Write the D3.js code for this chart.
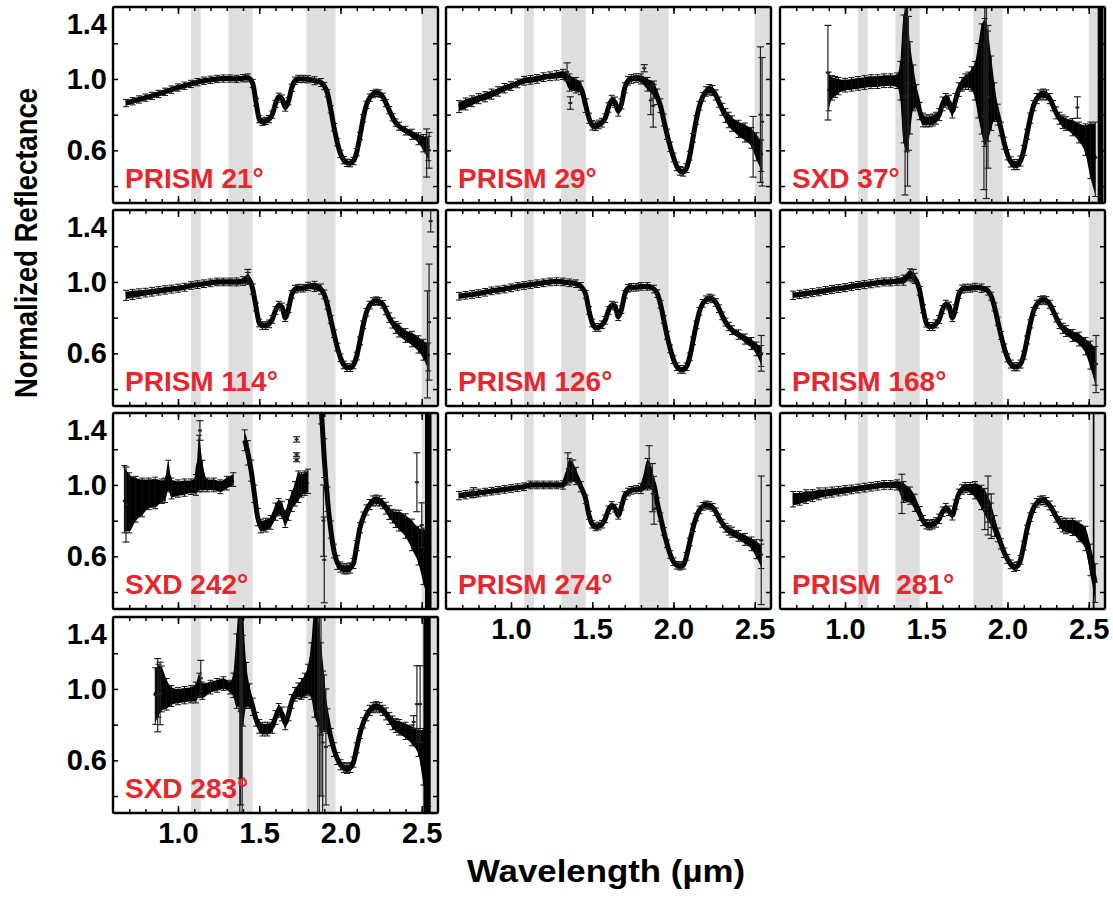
<!DOCTYPE html>
<html><head><meta charset="utf-8">
<script src="https://cdn.jsdelivr.net/npm/d3@7"></script>
<style>
html,body{margin:0;padding:0;background:#fff;}
svg{display:block;font-family:"Liberation Sans",Arial,sans-serif;}
</style></head>
<body><svg id="c" width="1113" height="903"></svg>
<script>
// ---------------- DATA ----------------
const xTickLabels = [1.0, 1.5, 2.0, 2.5];
const yTickLabels = [0.6, 1.0, 1.4];
const telluricBands = [[1.08, 1.14], [1.31, 1.46], [1.79, 1.97], [2.50, 2.60]];

const wlPrism = [0.68,0.72,0.76,0.80,0.84,0.88,0.92,0.96,1.00,1.04,1.08,1.12,1.16,1.20,1.24,1.28,1.32,1.36,1.40,
  1.43,1.46,1.48,1.50,1.52,1.54,1.56,1.58,1.60,1.62,1.64,1.66,1.68,1.70,1.72,1.74,
  1.77,1.80,1.84,1.88,1.90,1.92,1.94,1.96,1.98,
  2.00,2.02,2.04,2.06,2.08,2.10,2.12,2.14,2.16,2.18,2.20,2.22,2.24,2.26,2.28,2.30,2.32,2.34,2.36,
  2.40,2.44,2.48,2.51,2.54];

// PRISM 21°
const rf21 = [.865,.875,.885,.895,.905,.916,.928,.94,.952,.962,.972,.982,.99,.995,1.0,1.002,1.002,1.0,1.004,
  1.006,.975,.87,.775,.76,.765,.775,.80,.86,.90,.89,.84,.875,.95,.99,1.0,
  1.0,.998,.99,.98,.96,.92,.83,.73,.645,
  .58,.545,.53,.528,.54,.59,.68,.78,.855,.895,.915,.922,.918,.90,.865,.825,.785,.755,.735,
  .71,.69,.665,.64,.61];
const er21 = [.012,.012,.012,.012,.012,.012,.012,.012,.012,.012,.012,.012,.012,.012,.012,.012,.012,.012,.012,
  .014,.014,.012,.012,.012,.012,.012,.012,.012,.012,.012,.012,.012,.012,.012,.012,
  .012,.012,.014,.014,.012,.012,.012,.012,.012,
  .012,.012,.012,.012,.012,.012,.012,.012,.012,.012,.012,.012,.012,.012,.012,.012,.012,.012,.014,
  .016,.02,.025,.04,.06];
const bars21 = [[2.53,0.45,0.72],[2.545,0.50,0.70]];

// PRISM 29°
const rf29 = [.845,.86,.875,.89,.90,.915,.93,.948,.96,.975,.99,.995,1.0,1.01,1.015,1.02,1.025,.98,.965,
  .95,.85,.78,.74,.735,.745,.755,.78,.84,.88,.87,.82,.86,.95,.99,1.0,
  1.005,1.0,.97,.94,.90,.85,.77,.69,.62,
  .56,.51,.485,.48,.50,.57,.67,.77,.85,.90,.93,.94,.935,.91,.87,.83,.795,.77,.75,
  .72,.70,.67,.62,.57];
const er29 = [.025,.025,.022,.02,.02,.02,.018,.018,.016,.016,.016,.016,.016,.016,.016,.018,.02,.04,.035,
  .03,.03,.02,.018,.016,.016,.016,.016,.018,.02,.02,.02,.02,.02,.016,.016,
  .016,.02,.03,.04,.035,.03,.025,.02,.018,
  .016,.016,.016,.016,.016,.016,.016,.016,.016,.016,.018,.02,.02,.02,.02,.025,.03,.035,.035,
  .04,.045,.05,.07,.08];
const bars29 = [[1.345,0.99,1.09],[1.365,0.83,0.90],[1.82,1.04,1.08],[1.86,0.80,0.96],[1.875,0.73,0.97],
  [2.49,0.45,0.79],[2.535,0.42,1.18],[2.545,0.40,1.12]];

// SXD 37°
const wl37 = [0.90,0.92,0.94,0.96,1.00,1.04,1.08,1.12,1.16,1.20,1.24,1.28,1.32,1.34,1.36,1.38,1.40,1.42,
  1.44,1.46,1.48,1.50,1.52,1.54,1.56,1.58,1.60,1.62,1.64,1.66,1.68,1.70,1.72,1.74,1.76,1.78,
  1.80,1.82,1.84,1.86,1.88,1.90,1.92,1.94,1.96,1.98,2.00,2.02,2.04,2.06,2.08,2.10,2.12,2.14,2.16,2.18,
  2.20,2.22,2.24,2.26,2.28,2.30,2.32,2.34,2.36,2.40,2.44,2.48,2.51,2.54];
const rf37 = [.93,.95,.955,.96,.965,.97,.975,.98,.985,.985,.99,.99,.99,.99,1.0,1.0,.95,.95,
  .90,.82,.77,.765,.765,.77,.78,.80,.86,.88,.87,.82,.88,.94,.97,.985,.99,1.0,
  .99,.99,1.0,.98,.96,.92,.87,.80,.72,.64,.575,.535,.52,.52,.54,.60,.69,.78,.85,.89,
  .91,.915,.91,.89,.85,.81,.78,.76,.75,.73,.70,.66,.60,.55];
const er37 = [.1,.06,.05,.04,.03,.03,.03,.03,.03,.03,.03,.03,.035,.1,.35,.4,.25,.12,
  .06,.04,.03,.025,.025,.025,.025,.025,.03,.03,.03,.03,.03,.03,.03,.035,.04,.06,
  .1,.2,.3,.35,.3,.2,.1,.05,.03,.025,.02,.02,.02,.02,.02,.02,.02,.02,.02,.02,
  .02,.02,.02,.02,.02,.025,.025,.03,.03,.04,.05,.08,.15,.2];
const bars37 = [[0.895,0.77,1.30],[1.37,0.35,1.45],[1.385,0.40,1.42],[1.39,0.60,1.35],
  [1.855,0.38,1.20],[1.87,0.33,1.45],[1.88,0.50,1.30],[1.86,0.65,1.40],[2.43,0.78,0.90]];
const cols37 = [[2.555,2.59]];

// PRISM 114°
const rf114 = [.925,.93,.935,.94,.945,.95,.955,.96,.965,.97,.98,.985,.99,.995,1.0,1.0,1.0,1.0,1.005,
  1.02,.96,.86,.77,.755,.755,.765,.79,.84,.87,.86,.80,.85,.93,.96,.965,
  .965,.975,.975,.96,.93,.87,.79,.71,.635,
  .575,.535,.52,.52,.535,.585,.67,.76,.83,.87,.89,.895,.89,.875,.84,.80,.77,.745,.73,
  .70,.68,.65,.62,.58];
const er114 = [.02,.02,.018,.016,.016,.015,.015,.014,.014,.014,.013,.013,.013,.013,.013,.013,.013,.014,.016,
  .025,.02,.014,.013,.013,.013,.013,.013,.013,.013,.013,.013,.013,.013,.013,.013,
  .013,.015,.02,.02,.016,.014,.013,.013,.013,
  .013,.013,.013,.013,.013,.013,.013,.013,.013,.013,.013,.013,.013,.013,.015,.018,.02,.025,.03,
  .03,.035,.04,.05,.07];
const bars114 = [[1.43,0.99,1.07],[2.535,0.35,0.95],[2.545,0.45,1.10],[2.555,1.28,1.40]];

// PRISM 126°
const rf126 = [.92,.925,.93,.935,.942,.95,.955,.96,.967,.975,.98,.985,.99,.995,1.0,1.002,1.0,.995,.99,
  .975,.93,.84,.77,.745,.745,.76,.785,.84,.87,.865,.805,.845,.93,.965,.97,
  .97,.975,.975,.96,.935,.875,.79,.70,.625,
  .565,.525,.51,.51,.525,.58,.67,.76,.835,.88,.90,.91,.905,.885,.85,.81,.775,.75,.73,
  .705,.68,.655,.625,.585];
const er126 = [.013,.013,.013,.013,.013,.013,.013,.013,.013,.013,.013,.013,.013,.013,.013,.013,.013,.013,.013,
  .013,.013,.013,.013,.013,.013,.013,.013,.013,.013,.013,.013,.013,.013,.013,.013,
  .013,.013,.013,.013,.013,.013,.013,.013,.013,
  .013,.013,.013,.013,.013,.013,.013,.013,.013,.013,.013,.013,.013,.013,.013,.013,.014,.015,.016,
  .018,.02,.025,.03,.05];
const bars126 = [[2.54,0.50,0.70]];

// PRISM 168°
const rf168 = [.925,.93,.935,.94,.945,.952,.958,.963,.968,.975,.98,.985,.99,.995,1.0,1.0,1.005,1.01,1.04,
  1.02,.95,.85,.77,.75,.75,.765,.79,.845,.875,.865,.80,.85,.93,.96,.965,
  .965,.97,.965,.95,.92,.86,.78,.70,.63,
  .575,.54,.525,.525,.54,.59,.675,.765,.835,.875,.895,.90,.895,.875,.84,.80,.765,.74,.725,
  .70,.68,.64,.59,.53];
const er168 = [.015,.015,.015,.014,.014,.014,.014,.014,.014,.014,.014,.014,.014,.014,.014,.014,.015,.02,.025,
  .02,.016,.014,.014,.014,.014,.014,.014,.014,.014,.014,.014,.014,.014,.014,.014,
  .014,.014,.015,.015,.014,.014,.014,.014,.014,
  .014,.014,.014,.014,.014,.014,.014,.014,.014,.014,.014,.014,.014,.014,.014,.016,.018,.02,.022,
  .025,.03,.04,.07,.1];
const bars168 = [[1.42,1.00,1.07],[2.545,0.38,0.70]];

// SXD 242°
const wl242 = [0.67,0.70,0.74,0.78,0.82,0.86,0.90,0.92,0.94,0.96,1.00,1.04,1.08,1.11,1.13,1.15,1.18,1.22,1.26,1.30,1.34,
  1.36,1.41,1.43,1.45,1.47,1.49,1.51,1.54,1.57,1.60,1.62,1.64,1.66,1.68,1.70,1.72,1.74,1.76,1.78,1.80,
  1.82,1.88,1.90,1.92,1.94,1.96,1.98,2.00,2.02,2.04,2.06,2.08,2.10,2.12,2.14,2.16,2.18,2.20,2.22,2.24,
  2.26,2.28,2.30,2.32,2.34,2.36,2.40,2.44,2.48,2.51,2.54];
const rf242 = [.92,.90,.92,.93,.95,.955,.965,.97,1.05,.98,.98,.985,.99,1.0,1.12,1.05,1.0,1.0,.99,1.01,1.03,
  null,1.25,1.18,1.08,.95,.82,.77,.775,.79,.85,.875,.86,.81,.86,.91,.95,.99,1.0,1.01,1.02,
  null,1.45,1.15,.92,.75,.63,.565,.54,.53,.53,.535,.56,.66,.76,.82,.86,.89,.91,.915,.91,
  .895,.87,.845,.825,.81,.80,.77,.72,.66,.60,.55];
const er242 = [.18,.16,.12,.10,.08,.08,.06,.06,.08,.05,.04,.04,.035,.05,.15,.08,.03,.03,.03,.03,.03,
  0,.05,.06,.05,.04,.04,.03,.03,.03,.04,.04,.04,.04,.05,.05,.06,.08,.06,.06,.06,
  0,.1,.1,.06,.04,.03,.03,.02,.02,.02,.02,.02,.02,.02,.02,.02,.02,.02,.02,.02,
  .02,.025,.03,.03,.04,.05,.06,.08,.1,.15,.2];
const bars242 = [[0.68,0.68,1.10],[1.135,1.25,1.36],[1.73,1.24,1.27],[1.73,1.16,1.18],[1.73,1.13,1.15],
  [1.895,0.60,1.00],[1.90,0.34,0.82],[2.47,0.85,1.18],[2.50,0.65,0.90]];
const cols242 = [[2.52,2.56]];

// PRISM 274°
const rf274 = [.94,.945,.95,.955,.96,.965,.97,.975,.98,.985,.99,1.0,1.0,1.0,1.0,1.0,1.0,1.08,1.05,
  .99,.92,.83,.78,.765,.77,.78,.81,.86,.885,.87,.83,.88,.94,.96,.97,
  .975,.98,1.06,1.0,.90,.82,.74,.67,.61,
  .57,.55,.545,.55,.60,.68,.76,.82,.86,.88,.888,.885,.875,.85,.815,.785,.76,.745,.735,
  .715,.695,.67,.64,.60];
const er274 = [.015,.015,.014,.013,.013,.013,.013,.013,.013,.013,.013,.013,.013,.013,.013,.013,.015,.06,.04,
  .02,.015,.014,.013,.013,.013,.013,.013,.013,.013,.013,.013,.013,.013,.013,.013,
  .013,.02,.08,.04,.02,.015,.013,.013,.013,
  .013,.013,.013,.013,.013,.013,.013,.013,.013,.013,.013,.013,.013,.013,.013,.014,.016,.018,.02,
  .022,.025,.03,.045,.06];
const bars274 = [[0.77,0.93,0.985],[1.35,1.00,1.18],[1.38,1.02,1.14],[1.85,1.00,1.22],[1.87,0.85,1.12],
  [1.88,0.78,0.95],[2.54,0.33,1.05]];

// PRISM 281°
const rf281 = [.92,.925,.935,.94,.95,.955,.96,.965,.97,.975,.98,.985,.99,.995,1.0,1.0,1.0,.96,.94,
  .90,.84,.80,.78,.775,.78,.79,.81,.85,.87,.855,.83,.89,.95,.975,.985,
  .98,.97,.93,.87,.83,.77,.72,.67,.62,
  .585,.555,.54,.545,.58,.66,.75,.82,.87,.90,.912,.915,.905,.885,.855,.82,.79,.775,.77,
  .765,.74,.70,.58,.45];
const er281 = [.035,.03,.03,.025,.025,.02,.02,.018,.018,.016,.016,.016,.016,.016,.016,.016,.02,.05,.04,
  .04,.03,.02,.018,.018,.018,.018,.018,.018,.018,.018,.018,.018,.018,.018,.02,
  .025,.04,.06,.07,.06,.05,.03,.02,.018,
  .016,.016,.016,.016,.016,.016,.016,.016,.016,.016,.016,.016,.016,.016,.018,.02,.025,.03,.035,
  .04,.05,.06,.08,.1];
const bars281 = [[1.35,0.84,1.06],[1.86,0.75,0.98],[1.88,0.72,1.05],[1.90,0.70,0.95]];
const cols281 = [[2.525,2.535]];

// SXD 283°
const wl283 = [0.86,0.88,0.90,0.93,0.96,1.00,1.04,1.08,1.11,1.13,1.15,1.20,1.24,1.28,1.32,1.34,1.36,1.38,1.40,1.42,
  1.44,1.46,1.48,1.50,1.52,1.55,1.58,1.60,1.62,1.64,1.66,1.68,1.70,1.72,1.74,1.76,1.78,1.80,
  1.82,1.84,1.86,1.88,1.90,1.92,1.94,1.96,1.98,2.00,2.02,2.04,2.06,2.08,2.10,2.12,2.14,2.16,2.18,
  2.20,2.22,2.24,2.26,2.28,2.30,2.32,2.34,2.36,2.40,2.44,2.48,2.51,2.54];
const rf283 = [.96,.99,1.0,.97,.96,.96,.965,.97,.98,1.02,.99,1.01,1.02,1.03,1.01,1.02,1.10,1.2,1.1,1.02,
  .96,.90,.83,.79,.775,.775,.79,.84,.88,.86,.81,.86,.93,.97,.99,1.0,1.02,1.05,
  1.1,1.15,1.1,1.0,.92,.82,.73,.66,.61,.575,.56,.555,.56,.59,.67,.75,.81,.85,.88,
  .895,.90,.895,.88,.86,.835,.81,.795,.785,.765,.74,.70,.62,.55];
const er283 = [.15,.14,.12,.08,.05,.04,.04,.04,.05,.06,.04,.03,.03,.03,.03,.06,.2,.3,.3,.12,
  .06,.04,.03,.03,.03,.03,.03,.03,.03,.03,.03,.03,.03,.03,.035,.05,.06,.08,
  .15,.3,.3,.25,.15,.06,.04,.03,.025,.02,.02,.02,.02,.02,.02,.02,.02,.02,.02,
  .02,.02,.02,.02,.025,.025,.03,.03,.035,.04,.05,.07,.15,.2];
const bars283 = [[0.875,0.76,1.17],[0.89,0.80,1.15],[1.14,0.96,1.16],[1.38,0.30,1.45],[1.385,0.35,1.42],
  [1.39,0.50,1.40],[1.395,0.30,1.30],[1.86,0.30,1.45],[1.87,0.30,1.42],[1.88,0.40,1.45],[1.89,0.30,1.10],
  [1.91,0.35,1.00],[2.45,0.78,0.85],[2.47,0.70,1.13],[2.49,0.70,1.13]];
const cols283 = [[2.51,2.555]];

const panelLabels = ["PRISM 21°","PRISM 29°","SXD 37°","PRISM 114°","PRISM 126°","PRISM 168°",
  "SXD 242°","PRISM 274°","PRISM  281°","SXD 283°"];

// ---------------- LAYOUT ----------------
const colLefts = [113, 446, 780];
const rowTops = [7, 210, 413, 617];
const PW = 325, PH = 196;

const panels = [
  {label: panelLabels[0], wl: wlPrism, rf: rf21, er: er21, bars: bars21, cols: [], r: 0, c: 0},
  {label: panelLabels[1], wl: wlPrism, rf: rf29, er: er29, bars: bars29, cols: [], r: 0, c: 1},
  {label: panelLabels[2], wl: wl37, rf: rf37, er: er37, bars: bars37, cols: cols37, r: 0, c: 2},
  {label: panelLabels[3], wl: wlPrism, rf: rf114, er: er114, bars: bars114, cols: [], r: 1, c: 0},
  {label: panelLabels[4], wl: wlPrism, rf: rf126, er: er126, bars: bars126, cols: [], r: 1, c: 1},
  {label: panelLabels[5], wl: wlPrism, rf: rf168, er: er168, bars: bars168, cols: [], r: 1, c: 2},
  {label: panelLabels[6], wl: wl242, rf: rf242, er: er242, bars: bars242, cols: cols242, r: 2, c: 0},
  {label: panelLabels[7], wl: wlPrism, rf: rf274, er: er274, bars: bars274, cols: [], r: 2, c: 1},
  {label: panelLabels[8], wl: wlPrism, rf: rf281, er: er281, bars: bars281, cols: cols281, r: 2, c: 2},
  {label: panelLabels[9], wl: wl283, rf: rf283, er: er283, bars: bars283, cols: cols283, r: 3, c: 0},
];

const x = d3.scaleLinear().domain([0.6, 2.6]).range([0, PW]);
const y = d3.scaleLinear().domain([0.305, 1.403]).range([PH, 0]);

const svg = d3.select("#c");
const defs = svg.append("defs");
defs.append("clipPath").attr("id", "pclip").append("rect").attr("width", PW).attr("height", PH);

const minorX = d3.range(7, 26).map(d => d / 10);
const minorY = [0.4, 0.6, 0.8, 1.0, 1.2];

panels.forEach((p, i) => {
  const g = svg.append("g").attr("transform", `translate(${colLefts[p.c]},${rowTops[p.r]})`);
  const inner = g.append("g").attr("clip-path", "url(#pclip)");

  // telluric bands
  inner.selectAll("rect.band").data(telluricBands).join("rect")
    .attr("x", d => x(d[0])).attr("width", d => x(d[1]) - x(d[0]))
    .attr("y", 0).attr("height", PH).attr("fill", "#dedede");

  const pts = p.wl.map((w, k) => ({w, r: p.rf[k], e: p.er[k]}));
  const def = d => d.r !== null && d.r !== undefined;

  // error envelope
  inner.append("path").datum(pts)
    .attr("d", d3.area().defined(def).curve(d3.curveMonotoneX)
      .x(d => x(d.w)).y0(d => y(d.r - d.e)).y1(d => y(d.r + d.e)))
    .attr("fill", "#000");
  // main trace (markers)
  inner.append("path").datum(pts)
    .attr("d", d3.line().defined(def).curve(d3.curveMonotoneX).x(d => x(d.w)).y(d => y(d.r)))
    .attr("fill", "none").attr("stroke", "#000").attr("stroke-width", 5);

  // per-point error bars with caps
  const eb = inner.append("g").attr("stroke", "#111").attr("stroke-width", 1);
  pts.filter(def).forEach(d => {
    const xx = x(d.w), y1 = y(d.r + d.e), y2 = y(d.r - d.e);
    eb.append("line").attr("x1", xx).attr("x2", xx).attr("y1", y1 - 1.5).attr("y2", y2 + 1.5);
    eb.append("line").attr("x1", xx - 3).attr("x2", xx + 3).attr("y1", y1 - 1.5).attr("y2", y1 - 1.5);
    eb.append("line").attr("x1", xx - 3).attr("x2", xx + 3).attr("y1", y2 + 1.5).attr("y2", y2 + 1.5);
  });

  // isolated error bars / spikes
  const sb = inner.append("g").attr("stroke", "#222").attr("stroke-width", 1.2);
  sb.selectAll("line.v").data(p.bars).join("line")
    .attr("x1", d => x(d[0])).attr("x2", d => x(d[0]))
    .attr("y1", d => y(d[2])).attr("y2", d => y(d[1]));
  sb.selectAll("line.t").data(p.bars).join("line").attr("class", "t")
    .attr("x1", d => x(d[0]) - 3.5).attr("x2", d => x(d[0]) + 3.5)
    .attr("y1", d => y(d[2])).attr("y2", d => y(d[2]));
  sb.selectAll("line.b").data(p.bars).join("line").attr("class", "b")
    .attr("x1", d => x(d[0]) - 3.5).attr("x2", d => x(d[0]) + 3.5)
    .attr("y1", d => y(d[1])).attr("y2", d => y(d[1]));
  sb.selectAll("line.m").data(p.bars).join("line").attr("class", "m")
    .attr("x1", d => x(d[0]) - 2).attr("x2", d => x(d[0]) + 2)
    .attr("y1", d => y((d[1] + d[2]) / 2)).attr("y2", d => y((d[1] + d[2]) / 2))
    .attr("stroke-width", 2);

  // saturated noisy columns at the red end
  inner.selectAll("rect.col").data(p.cols).join("rect")
    .attr("x", d => x(d[0])).attr("width", d => x(d[1]) - x(d[0]))
    .attr("y", 0).attr("height", PH).attr("fill", "#000");

  // inward ticks
  const tickG = g.append("g").attr("class", "ticks");
  const mk = (axis, tx, ty) => {
    const a = tickG.append("g").attr("transform", `translate(${tx},${ty})`).call(axis);
    a.select(".domain").remove();
    a.selectAll("text").remove();
    a.selectAll("line").attr("stroke", "#000").attr("stroke-width", 1.5);
  };
  mk(d3.axisBottom(x).tickValues(minorX).tickSize(-4), 0, PH);
  mk(d3.axisTop(x).tickValues(minorX).tickSize(-4), 0, 0);
  mk(d3.axisBottom(x).tickValues(xTickLabels).tickSize(-7), 0, PH);
  mk(d3.axisTop(x).tickValues(xTickLabels).tickSize(-7), 0, 0);
  mk(d3.axisLeft(y).tickValues(minorY).tickSize(-5), 0, 0);
  mk(d3.axisRight(y).tickValues(minorY).tickSize(-5), PW, 0);

  // frame
  g.append("rect").attr("width", PW).attr("height", PH)
    .attr("fill", "none").attr("stroke", "#000").attr("stroke-width", 2.4).attr("rx", 1.5);

  // panel label
  g.append("text").attr("x", 12).attr("y", 181)
    .attr("fill", "#e8262d").attr("font-size", 28).attr("font-weight", "bold")
    .style("white-space", "pre").text(p.label);

  // y tick labels (left column)
  if (p.c === 0) {
    const ay = g.append("g").call(d3.axisLeft(y).tickValues(yTickLabels).tickSize(0).tickPadding(6)
      .tickFormat(d3.format(".1f")));
    ay.select(".domain").remove();
    ay.selectAll("text").attr("font-size", 29).attr("font-weight", "bold").attr("fill", "#000")
      .attr("font-family", "Liberation Sans, Arial, sans-serif")
      .attr("transform", d => d === 1.4 ? "translate(0,17)" : null);
  }
  // x tick labels (bottom of each column)
  const lastRow = p.c === 0 ? 3 : 2;
  if (p.r === lastRow) {
    const ax = g.append("g").attr("transform", `translate(0,${PH})`)
      .call(d3.axisBottom(x).tickValues(xTickLabels).tickSize(0).tickPadding(9)
        .tickFormat(d3.format(".1f")));
    ax.select(".domain").remove();
    ax.selectAll("text").attr("font-size", 29).attr("font-weight", "bold").attr("fill", "#000")
      .attr("font-family", "Liberation Sans, Arial, sans-serif");
  }
});

// axis titles
svg.append("text").attr("transform", "translate(37,243) rotate(-90)")
  .attr("text-anchor", "middle").attr("font-size", 31).attr("font-weight", "bold")
  .attr("textLength", 310).attr("lengthAdjust", "spacingAndGlyphs")
  .text("Normalized Reflectance");
svg.append("text").attr("x", 606).attr("y", 882)
  .attr("text-anchor", "middle").attr("font-size", 32).attr("font-weight", "bold")
  .attr("textLength", 278).attr("lengthAdjust", "spacingAndGlyphs")
  .text("Wavelength (µm)");
</script>
</body></html>
